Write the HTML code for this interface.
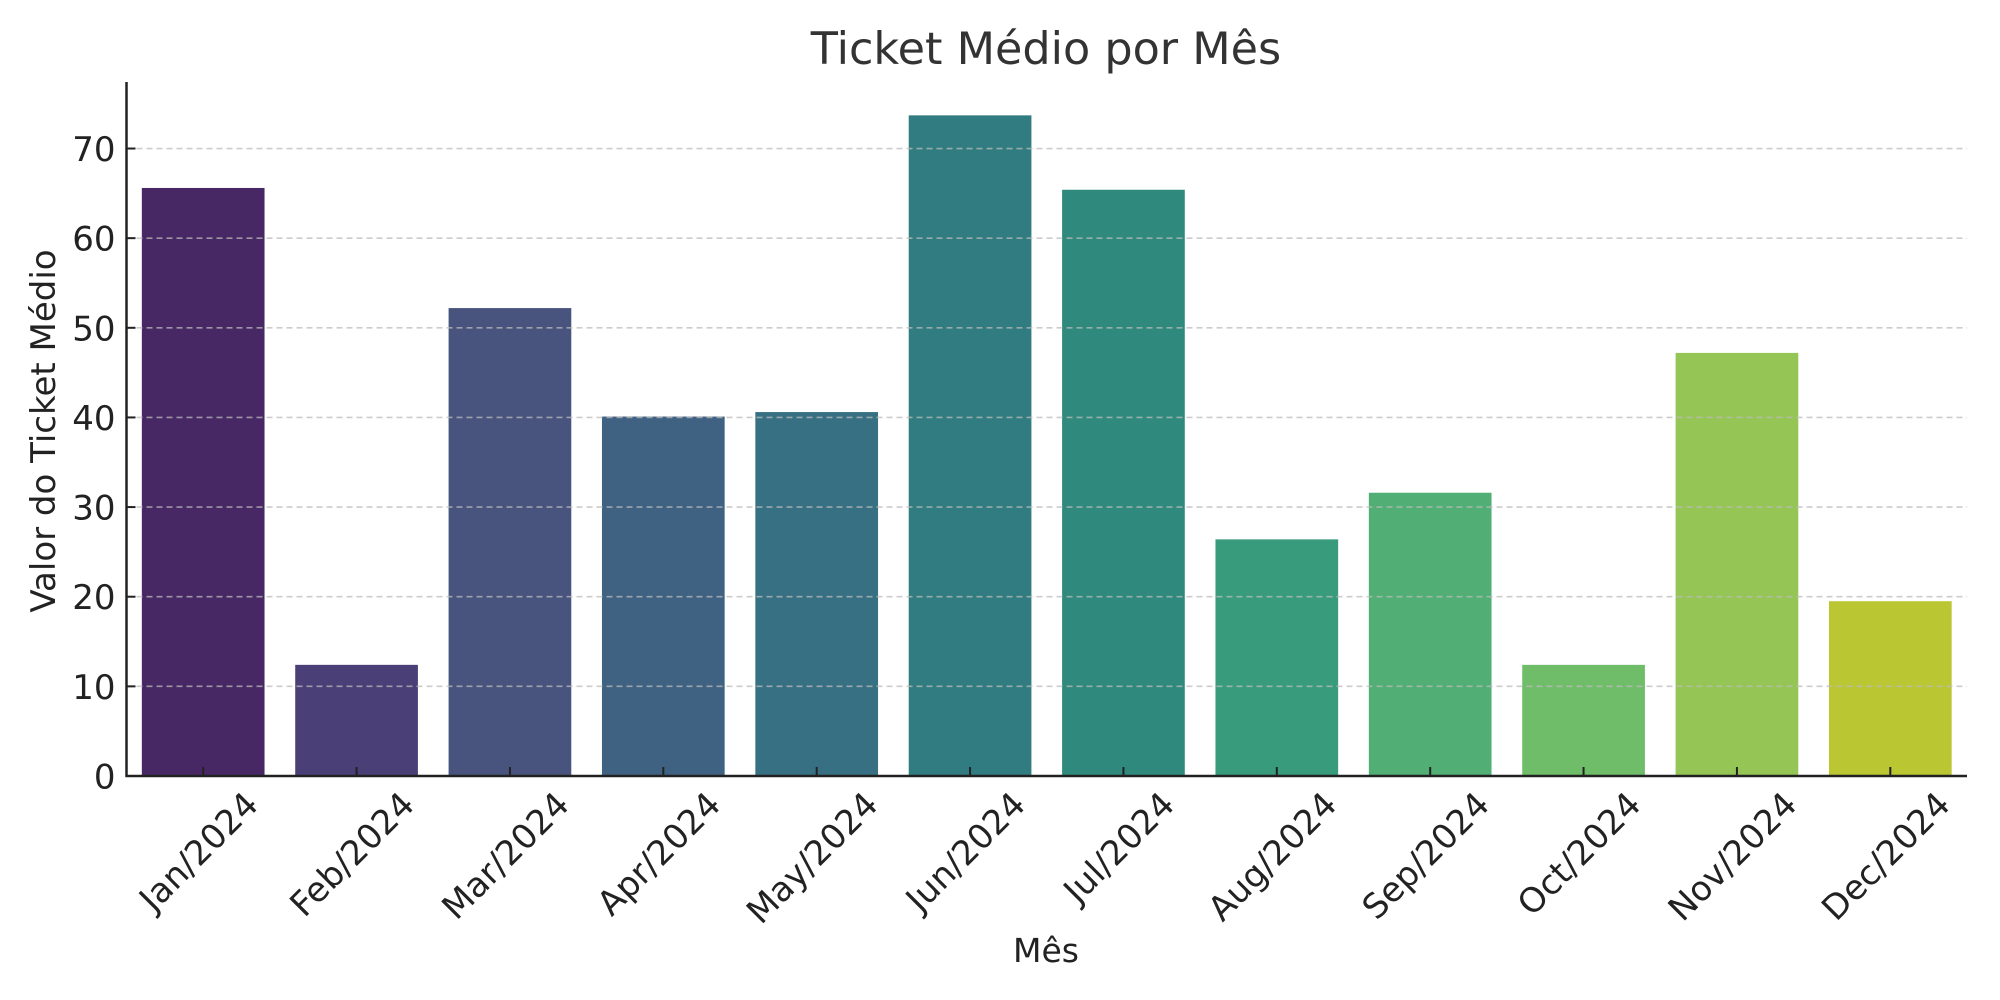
<!DOCTYPE html>
<html><head><meta charset="utf-8"><style>
html,body{margin:0;padding:0;background:#fff;}
svg{display:block;font-family:"DejaVu Sans","Liberation Sans",sans-serif;}
</style></head><body>
<svg id="chart" width="2000" height="1000" viewBox="0 0 2000 1000" xmlns="http://www.w3.org/2000/svg">
<rect width="2000" height="1000" fill="#fff"/>
<text x="1046" y="64" font-size="44.5" text-anchor="middle" fill="#333">Ticket Médio por Mês</text>
<text transform="translate(55,431) rotate(-90)" font-size="34" text-anchor="middle" fill="#222">Valor do Ticket Médio</text>
<text x="1046" y="962" font-size="33" text-anchor="middle" fill="#222">Mês</text>
<g id="bars"></g><g id="grid"></g><g id="axes"></g><g id="labels"></g>
</svg>
<script>
const categories = ["Jan/2024","Feb/2024","Mar/2024","Apr/2024","May/2024","Jun/2024","Jul/2024","Aug/2024","Sep/2024","Oct/2024","Nov/2024","Dec/2024"];
const values = [65.6,12.4,52.2,40.1,40.6,73.7,65.4,26.4,31.6,12.4,47.2,19.5];
const yTicks = [0,10,20,30,40,50,60,70];
const colors = ["#472864","#4b3f78","#48547e","#3f6282","#387083","#317c80","#2f8a7d","#389b7c","#51ae74","#70bd69","#95c554","#bbc633"];
const NS="http://www.w3.org/2000/svg";
const X0=126.5,X1=1967,Y0=776,PXU=8.964,TOP=82;
const step=(X1-X0)/categories.length;
const xC=i=>X0+step*(i+0.5);
const yS=v=>Y0-v*PXU;
function mk(t,a,p){const e=document.createElementNS(NS,t);for(const k in a)e.setAttribute(k,a[k]);p.appendChild(e);return e;}
const bars=document.getElementById('bars'),grid=document.getElementById('grid'),axes=document.getElementById('axes'),labels=document.getElementById('labels');
values.forEach((v,i)=>{
 const w=step*0.8;
 const r=mk('rect',{x:xC(i)-w/2,y:yS(v),width:w,height:Y0-yS(v),fill:colors[i]},bars);
 
 
});
yTicks.forEach(t=>{
 if(t>0){const g=mk('line',{x1:X0,x2:X1,y1:yS(t),y2:yS(t),stroke:'#bbb','stroke-opacity':0.75,'stroke-width':1.6,'stroke-dasharray':'6,4'},grid);
 
 }
 mk('line',{x1:X0,x2:X0+9,y1:yS(t),y2:yS(t),stroke:'#222','stroke-width':2},axes);
 const l=mk('text',{x:X0-11,y:yS(t)+12.5,'font-size':34,'text-anchor':'end',fill:'#222'},labels);
 l.textContent=t;
 
 
});
categories.forEach((c,i)=>{
 mk('line',{x1:xC(i),x2:xC(i),y1:Y0,y2:Y0-9,stroke:'#222','stroke-width':2},axes);
 const l=mk('text',{'font-size':34,'text-anchor':'middle','dominant-baseline':'central',fill:'#222'},labels);
 l.textContent=c;
 const w=l.getComputedTextLength();
 const cy=790+(w+25)/(2*Math.SQRT2);
 l.setAttribute('transform','translate('+(xC(i)-4)+','+cy+') rotate(-45)');
 
 
});
const ya=mk('line',{x1:X0,x2:X0,y1:TOP,y2:Y0+1,stroke:'#222','stroke-width':2.5},axes);


const xa=mk('line',{x1:X0-1,x2:X1,y1:Y0,y2:Y0,stroke:'#222','stroke-width':2.5},axes);


</script>
</body></html>
